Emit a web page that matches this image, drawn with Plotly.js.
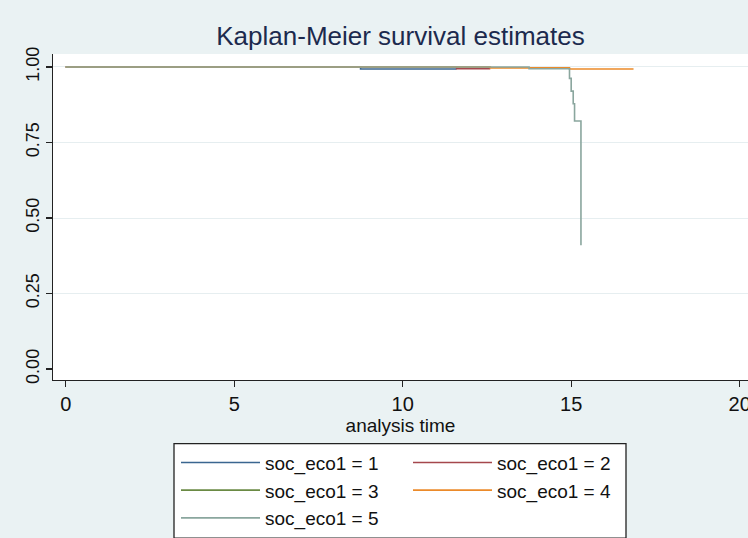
<!DOCTYPE html>
<html>
<head>
<meta charset="utf-8">
<script src="https://cdn.plot.ly/plotly-3.0.1.min.js"></script>
<style>html,body{margin:0;padding:0;background:#eaf2f3;}#chart{width:748px;height:538px;}</style>
</head>
<body>
<div id="chart"></div>
<script>
// Kaplan-Meier step data (analysis time, survival)
const seriesNames = ["soc_eco1 = 1", "soc_eco1 = 2", "soc_eco1 = 3", "soc_eco1 = 4", "soc_eco1 = 5"];
const time1 = [0, 8.75, 11.6];
const surv1 = [1, 0.993, 0.993];
const time2 = [0, 11.6, 12.6];
const surv2 = [1, 0.994, 0.994];
const time3 = [0, 12.6];
const surv3 = [1, 1];
const time4 = [0, 12.6, 14.95, 16.85];
const surv4 = [1, 0.997, 0.993, 0.993];
const time5 = [0, 13.75, 14.95, 15.0, 15.06, 15.1, 15.29];
const surv5 = [1, 0.994, 0.962, 0.92, 0.878, 0.821, 0.41];
const xTicks = [0, 5, 10, 15, 20];
const yTicks = [0, 0.25, 0.5, 0.75, 1];
const yTickText = ["0.00", "0.25", "0.50", "0.75", "1.00"];

const colors = ["#3a6690", "#a5474d", "#6a8a44", "#eb8a2a", "#8aa69e"];
const legendOf = ["legend", "legend2", "legend", "legend2", "legend"];
const times = [time1, time2, time3, time4, time5];
const survs = [surv1, surv2, surv3, surv4, surv5];

const traces = times.map((t, i) => ({
  x: t, y: survs[i], name: seriesNames[i], type: "scatter", mode: "lines",
  line: {shape: "hv", color: colors[i], width: 1.6},
  legend: legendOf[i], hoverinfo: "skip"
}));

const baseFont = "Liberation Sans, Arial, Helvetica, sans-serif";
const legendCommon = {
  orientation: "v", bgcolor: "rgba(0,0,0,0)", borderwidth: 0,
  font: {family: baseFont, size: 19, color: "#111"},
  itemwidth: 79, xanchor: "left", yanchor: "top", traceorder: "normal",
  itemclick: false, itemdoubleclick: false
};

const layout = {
  width: 748, height: 538,
  paper_bgcolor: "#eaf2f3", plot_bgcolor: "#ffffff",
  margin: {l: 53, r: 0, t: 54, b: 156, pad: 0},
  showlegend: true,
  title: {text: "Kaplan-Meier survival estimates", x: 0.5, xref: "paper", xanchor: "center",
          y: 1 - 36 / 538, yref: "container", yanchor: "middle",
          font: {family: baseFont, size: 26, color: "#1c2a4e"}},
  xaxis: {
    range: [-0.377, 20.247], tickvals: xTicks, ticktext: xTicks.map(String),
    showgrid: false, zeroline: false, showline: true, linecolor: "#222", linewidth: 1.3,
    ticks: "outside", ticklen: 6, tickcolor: "#222", tickwidth: 1.3,
    ticklabeloverflow: "allow",
    tickfont: {family: baseFont, size: 20, color: "#111"},
    title: {text: "analysis time", standoff: 0, font: {family: baseFont, size: 19, color: "#111"}},
    fixedrange: true
  },
  yaxis: {
    range: [-0.0362, 1.0428], tickvals: yTicks, ticktext: yTickText,
    showgrid: true, gridcolor: "#e6eef0", gridwidth: 1,
    zeroline: true, zerolinecolor: "#ffffff", zerolinewidth: 1,
    showline: true, linecolor: "#222", linewidth: 1.3,
    ticks: "outside", ticklen: 6, tickcolor: "#222", tickwidth: 1.3,
    tickangle: -90, tickfont: {family: baseFont, size: 18, color: "#111"},
    fixedrange: true
  },
  legend: Object.assign({}, legendCommon, {x: (176 - 53) / 695, y: (382 - 446) / 328}),
  legend2: Object.assign({}, legendCommon, {x: (408 - 53) / 695, y: (382 - 446) / 328}),
  shapes: [{
    type: "rect", xref: "paper", yref: "paper", layer: "below",
    x0: (174 - 53) / 695, x1: (626 - 53) / 695,
    y0: (382 - 446) / 328, y1: (382 - 541) / 328,
    line: {color: "#222", width: 1.3}, fillcolor: "#ffffff"
  }]
};

Plotly.newPlot("chart", traces, layout, {staticPlot: true, displayModeBar: false});
</script>
</body>
</html>
